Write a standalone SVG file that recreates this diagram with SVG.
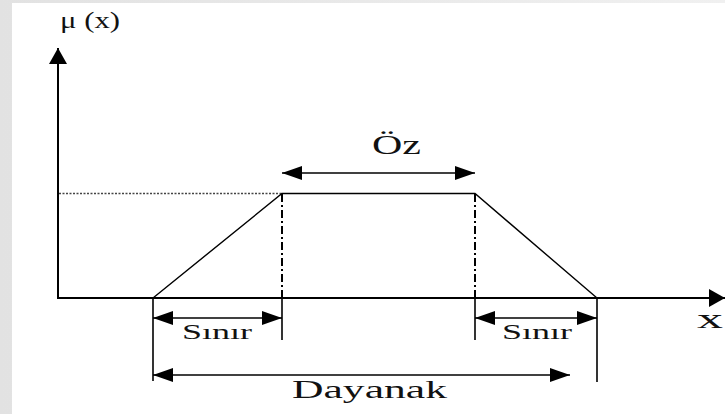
<svg xmlns="http://www.w3.org/2000/svg" width="725" height="414" viewBox="0 0 725 414">
  <defs>
    <linearGradient id="bg" x1="0" y1="0" x2="1" y2="0">
      <stop offset="0" stop-color="#e2e2e2"/>
      <stop offset="1" stop-color="#f0f0f0"/>
    </linearGradient>
    <marker id="ah" viewBox="0 0 20 14" refX="20" refY="7" markerWidth="20" markerHeight="14" markerUnits="userSpaceOnUse" orient="auto-start-reverse">
      <path d="M0,0 L20,7 L0,14 Z" fill="#000"/>
    </marker>
    <marker id="ahAxis" viewBox="0 0 16 18" refX="16" refY="9" markerWidth="16" markerHeight="18" markerUnits="userSpaceOnUse" orient="auto">
      <path d="M0,0 L16,9 L0,18 Z" fill="#000"/>
    </marker>
  </defs>
  <style>
    .axis { stroke:#000; stroke-width:2; fill:none; }
    .thin { stroke:#000; stroke-width:1.4; fill:none; }
    .tick { stroke:#000; stroke-width:1.6; fill:none; }
    .dim { stroke:#000; stroke-width:1.6; fill:none; }
    .dashdot { stroke:#000; stroke-width:2; fill:none; stroke-dasharray:8 3 2 3; }
    .dotted { stroke:#444; stroke-width:1.5; fill:none; stroke-dasharray:2 1.5; }
    .lbl { font-family:"Liberation Serif","Times New Roman",serif; fill:#111; }
  </style>
  <rect x="0" y="0" width="725" height="414" fill="url(#bg)"/>
  <rect x="12" y="3" width="713" height="411" fill="#fff"/>

  <g id="connectors">
    <line class="axis" x1="58" y1="299" x2="58" y2="48" marker-end="url(#ahAxis)"/>
    <line class="axis" x1="57" y1="298" x2="725" y2="298" marker-end="url(#ahAxis)"/>
    <line class="dotted" x1="59" y1="193.5" x2="282" y2="193.5"/>
    <polyline class="thin" points="153,298 282,193.5 475,193.5 597,298"/>
    <line class="dashdot" x1="282" y1="194" x2="282" y2="298"/>
    <line class="dashdot" x1="475" y1="194" x2="475" y2="298"/>
    <line class="tick" x1="153" y1="298" x2="153" y2="381"/>
    <line class="tick" x1="282" y1="298" x2="282" y2="340"/>
    <line class="tick" x1="475" y1="298" x2="475" y2="340"/>
    <line class="tick" x1="597" y1="298" x2="597" y2="382"/>
    <line class="dim" x1="282" y1="173" x2="475" y2="173" marker-start="url(#ah)" marker-end="url(#ah)"/>
    <line class="dim" x1="153" y1="318" x2="282" y2="318" marker-start="url(#ah)" marker-end="url(#ah)"/>
    <line class="dim" x1="475" y1="318" x2="597" y2="318" marker-start="url(#ah)" marker-end="url(#ah)"/>
    <line class="dim" x1="153" y1="375" x2="570" y2="375" marker-start="url(#ah)" marker-end="url(#ah)"/>
  </g>

  <g id="label-mu"><text class="lbl" x="60" y="28" font-size="24" textLength="60" lengthAdjust="spacingAndGlyphs">μ (x)</text></g>
  <g id="label-oz"><text class="lbl" x="372" y="154" font-size="28" textLength="49" lengthAdjust="spacingAndGlyphs">Öz</text></g>
  <g id="label-sinir-left"><text class="lbl" x="182" y="339" font-size="22" textLength="70" lengthAdjust="spacingAndGlyphs">Sınır</text></g>
  <g id="label-sinir-right"><text class="lbl" x="502" y="339" font-size="22" textLength="70" lengthAdjust="spacingAndGlyphs">Sınır</text></g>
  <g id="label-dayanak"><text class="lbl" x="292" y="398" font-size="26" textLength="155" lengthAdjust="spacingAndGlyphs">Dayanak</text></g>
  <g id="label-x"><text class="lbl" x="697" y="328" font-size="28" textLength="26" lengthAdjust="spacingAndGlyphs">x</text></g>
</svg>
